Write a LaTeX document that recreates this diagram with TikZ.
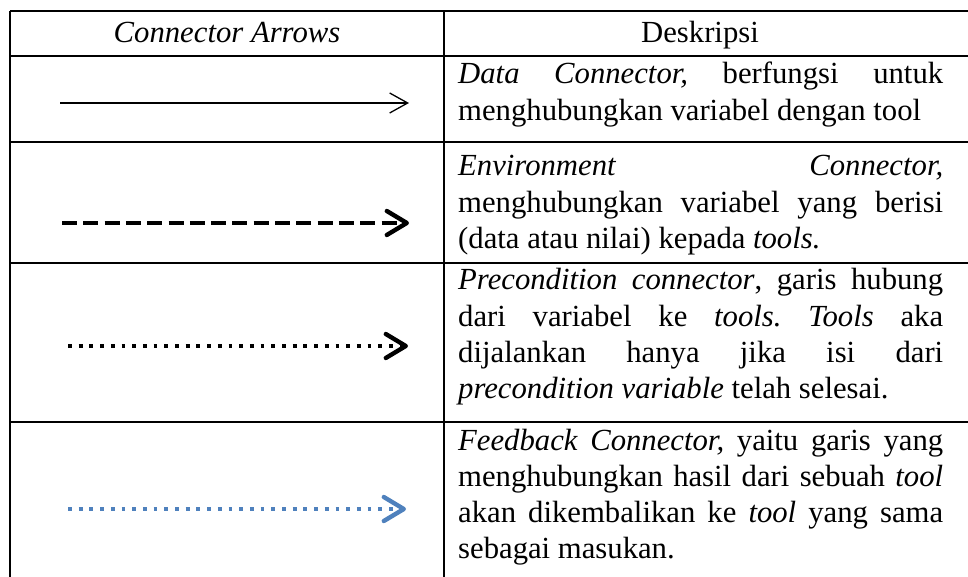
\documentclass[tikz,border=0pt]{standalone}
\usepackage{fontspec}
\setmainfont{Liberation Serif}
\usetikzlibrary{arrows.meta}
\definecolor{fbblue}{HTML}{4F81BD}
\tolerance=10000
\hyphenpenalty=10000
\frenchspacing

\begin{document}
\begin{tikzpicture}[x=1pt, y=1pt,
  rule/.style={line width=1.6pt},
  head/.style={anchor=base, font=\fontsize{30.7}{36.5}\selectfont},
  desc/.style={anchor=base west, inner sep=0pt, text width=485pt, align=justify,
    font=\fontsize{30.7}{36.2}\selectfont},
  thick arrow/.style={line width=4.4pt, -{Straight Barb[length=20pt, width=24pt, round]}}]
\useasboundingbox (0,0) rectangle (968,576);
\clip (0,0) rectangle (968,576);

% table rules
\draw[rule] (10,565) -- (975,565);
\draw[rule] (10,520) -- (975,520);
\draw[rule] (10,434) -- (975,434);
\draw[rule] (10,313) -- (975,313);
\draw[rule] (10,154) -- (975,154);
\draw[rule] (10,565) -- (10,-10);
\draw[rule] (444,565) -- (444,-10);

% header
\node[head] (hArrows) at (227,533) {\textit{Connector Arrows}};
\node[head] (hDesc) at (700,533) {Deskripsi};

% arrows
\coordinate (s1) at (60,473);   \coordinate (e1) at (409,473);
\coordinate (s2) at (62,353);   \coordinate (e2) at (409,353);
\coordinate (s3) at (68,230);   \coordinate (e3) at (408,230);
\coordinate (s4) at (68,67);    \coordinate (e4) at (406,67);

\draw[line width=1.3pt, -{Straight Barb[length=18pt, width=20pt]}] (s1) -- (e1);
\draw[thick arrow, dash pattern=on 15pt off 6.3pt] (s2) -- (e2);
\draw[thick arrow, dash pattern=on 3.8pt off 6.9pt] (s3) -- (e3);
\draw[thick arrow, fbblue, dash pattern=on 3.8pt off 6.9pt] (s4) -- (e4);

% descriptions
\node[desc] (d1) at (458,492) {\textit{Data Connector,} berfungsi untuk\linebreak
  menghubungkan variabel dengan tool};
\node[desc] (d2) at (458,400) {\textit{Environment Connector,}\linebreak
  menghubungkan variabel yang berisi\linebreak
  (data atau nilai) kepada \textit{tools.}};
\node[desc] (d3) at (458,286) {\textit{Precondition connector}, garis hubung\linebreak
  dari variabel ke \textit{tools. Tools} aka\linebreak
  dijalankan hanya jika isi dari\linebreak
  \textit{precondition variable} telah selesai.};
\node[desc] (d4) at (458,126) {\textit{Feedback Connector,} yaitu garis yang\linebreak
  menghubungkan hasil dari sebuah \textit{tool}\linebreak
  akan dikembalikan ke \textit{tool} yang sama\linebreak
  sebagai masukan.};
\end{tikzpicture}
\end{document}
